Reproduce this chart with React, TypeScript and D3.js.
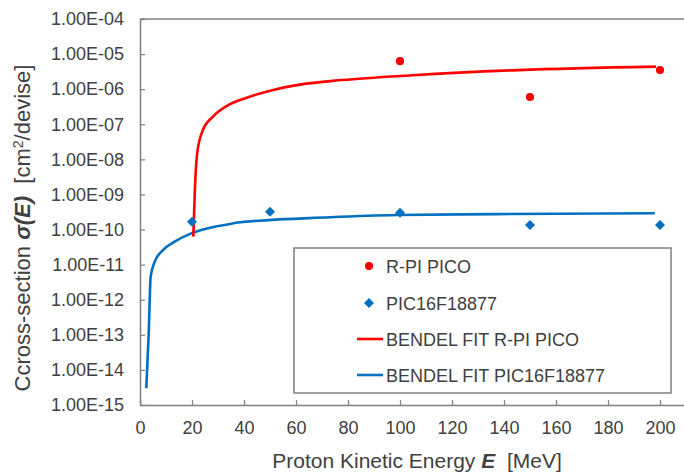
import * as d3 from 'd3';
import React, { useRef, useEffect } from 'react';

// tick values
const xTicks = [0, 20, 40, 60, 80, 100, 120, 140, 160, 180, 200];
const yTicks = [1e-4, 1e-5, 1e-6, 1e-7, 1e-8, 1e-9, 1e-10, 1e-11, 1e-12, 1e-13, 1e-14, 1e-15];

// measured points
const rpiE = [100, 150, 200];
const rpiSigma = [6.3e-6, 6.0e-7, 3.5e-6];
const picE = [20, 50, 100, 150, 200];
const picSigma = [1.66e-10, 3.2e-10, 3.0e-10, 1.35e-10, 1.35e-10];

// Bendel fit curves
const rpiFitE = [20.5, 21.15, 22.0, 24.2, 28.1, 33.3, 41.0, 51.2, 61.5, 77.7, 104.8, 145.6, 198.5];
const rpiFitSigma = [6.3e-11, 1.66e-9, 1.5e-8, 6.9e-8, 1.66e-7, 3.3e-7, 5.7e-7, 9.5e-7, 1.35e-6, 1.82e-6, 2.5e-6, 3.5e-6, 4.4e-6];
const picFitE = [2.42, 3.35, 4.1, 5.65, 8.85, 13.3, 19.7, 27.4, 34.6, 37.7, 73.1, 98.7, 137.2, 198];
const picFitSigma = [3.0e-15, 1.1e-13, 4.6e-12, 1.2e-11, 2.6e-11, 4.5e-11, 7.8e-11, 1.15e-10, 1.44e-10, 1.58e-10, 2.24e-10, 2.6e-10, 2.75e-10, 2.9e-10];

const legendLabels = ['R-PI PICO', 'PIC16F18877', 'BENDEL FIT R-PI PICO', 'BENDEL FIT PIC16F18877'];

const RED = '#ff0000';
const BLUE = '#0070c0';
const AXIS = '#7f7f7f';
const TEXT = '#404040';
const FONT = '"Liberation Sans", Arial, sans-serif';

const width = 684;
const height = 472;
const marginLeft = 140;
const marginTop = 19;
const plotBottom = 405;

const App = () => {
  const gx = useRef<SVGGElement>(null);
  const gy = useRef<SVGGElement>(null);

  const x = d3.scaleLinear([0, 220], [marginLeft, 712]);
  const y = d3.scaleLog([1e-15, 1e-4], [plotBottom, marginTop]);

  const fmt = (d: number) => `1.00E-${String(Math.round(-Math.log10(d))).padStart(2, '0')}`;

  useEffect(() => {
    const ax = d3.select(gx.current!);
    ax.call(d3.axisBottom(x).tickValues(xTicks).tickSizeInner(-5).tickSizeOuter(0).tickPadding(16));
    const ay = d3.select(gy.current!);
    ay.call(d3.axisLeft(y).tickValues(yTicks).tickFormat(fmt as any).tickSizeInner(-5).tickSizeOuter(0).tickPadding(16));
    [ax, ay].forEach((g) => {
      g.attr('font-family', FONT).attr('font-size', 18);
      g.select('.domain').attr('stroke', AXIS).attr('stroke-width', 1.5);
      g.selectAll('.tick line').attr('stroke', AXIS).attr('stroke-width', 1.2);
      g.selectAll('.tick text').attr('fill', TEXT);
    });
  }, []);

  const line = d3.line<[number, number]>((d) => x(d[0]), (d) => y(d[1])).curve(d3.curveMonotoneX);
  const circle = d3.symbol(d3.symbolCircle, 52)();
  const diamond = d3.symbol(d3.symbolSquare, 50)();

  const legendY = [266, 303, 339, 375];

  return (
    <svg width={width} height={height} style={{ position: 'absolute', left: 0, top: 0, background: '#fff' }}>
      {/* plot frame top */}
      <line x1={marginLeft} x2={712} y1={marginTop} y2={marginTop} stroke={AXIS} strokeWidth={1.5} />
      <line x1={712} x2={712} y1={marginTop} y2={plotBottom} stroke={AXIS} strokeWidth={1.5} />
      <g ref={gx} transform={`translate(0,${plotBottom})`} />
      <g ref={gy} transform={`translate(${marginLeft},0)`} />

      <path fill="none" stroke={BLUE} strokeWidth={2.6} d={line(picFitE.map((e, i) => [e, picFitSigma[i]]))!} />
      <path fill="none" stroke={RED} strokeWidth={2.6} d={line(rpiFitE.map((e, i) => [e, rpiFitSigma[i]]))!} />

      {picE.map((e, i) => (
        <path key={'p' + i} d={diamond!} fill={BLUE} transform={`translate(${x(e)},${y(picSigma[i])}) rotate(45)`} />
      ))}
      {rpiE.map((e, i) => (
        <path key={'r' + i} d={circle!} fill={RED} transform={`translate(${x(e)},${y(rpiSigma[i])})`} />
      ))}

      {/* legend */}
      <g fontFamily={FONT} fontSize={18} fill={TEXT}>
        <rect x={294} y={248} width={377} height={145} fill="#fff" stroke={AXIS} strokeWidth={1.5} />
        <path d={circle!} fill={RED} transform={`translate(369,${legendY[0]})`} />
        <path d={diamond!} fill={BLUE} transform={`translate(369,${legendY[1]}) rotate(45)`} />
        <line x1={357} x2={383} y1={legendY[2]} y2={legendY[2]} stroke={RED} strokeWidth={2.6} />
        <line x1={357} x2={383} y1={legendY[3]} y2={legendY[3]} stroke={BLUE} strokeWidth={2.6} />
        {legendLabels.map((t, i) => (
          <text key={t} x={386} y={legendY[i] + 6.5}>{t}</text>
        ))}
      </g>

      {/* axis titles */}
      <text x={417} y={468} textAnchor="middle" fontFamily={FONT} fontSize={21} fill={TEXT} style={{ whiteSpace: 'pre' }}>
        Proton Kinetic Energy <tspan fontWeight="bold" fontStyle="italic">E</tspan>{'  [MeV]'}
      </text>
      <text transform="translate(30,228) rotate(-90)" textAnchor="middle" fontFamily={FONT} fontSize={22} fill={TEXT} style={{ whiteSpace: 'pre' }}>
        Ccross-section <tspan fontWeight="bold" fontStyle="italic">σ(E)</tspan>{'  [cm'}
        <tspan dy={-7} fontSize={14}>2</tspan>
        <tspan dy={7}>/devise]</tspan>
      </text>
    </svg>
  );
};

export default App;
